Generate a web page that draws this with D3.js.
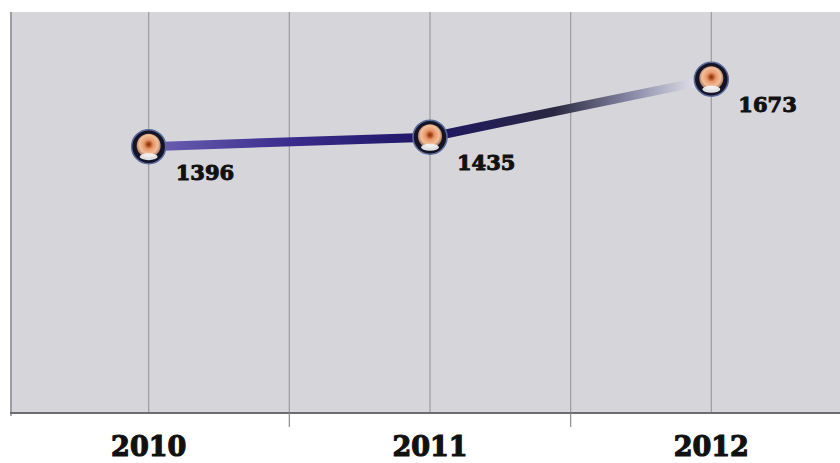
<!DOCTYPE html>
<html>
<head>
<meta charset="utf-8">
<script src="https://cdn.jsdelivr.net/npm/d3@7"></script>
<style>
  body { margin: 0; background: #fff; }
  svg { display: block; }
</style>
</head>
<body>
<script>
// dati
var years = ["2010", "2011", "2012"];
var values = [1396, 1435, 1673];

var width = 840, height = 463;
var plot = { left: 10, right: 852, top: 12, bottom: 413 };

var svg = d3.select("body").append("svg")
    .attr("width", width)
    .attr("height", height);

var x = d3.scaleBand().domain(years).range([8, plot.right]).padding(0);
var y = d3.scaleLinear().domain([300, 1950]).range([plot.bottom, plot.top]);

var defs = svg.append("defs");

// gradiente della linea
var lg = defs.append("linearGradient")
    .attr("id", "lineGrad")
    .attr("gradientUnits", "userSpaceOnUse")
    .attr("x1", x("2010") + x.bandwidth() / 2).attr("y1", 0)
    .attr("x2", x("2012") + x.bandwidth() / 2).attr("y2", 0);
[[0, "#6c62b4"], [0.25, "#3a2c8c"], [0.5, "#1e1664"], [0.72, "#2a2840"],
 [0.86, "#8a8aa8"], [1, "#f4f4fa"]].forEach(function(s) {
    lg.append("stop").attr("offset", s[0]).attr("stop-color", s[1]);
});

// gradiente dei marker
var rg = defs.append("radialGradient")
    .attr("id", "dotGrad")
    .attr("cx", "50%").attr("cy", "45%").attr("r", "55%");
[[0, "#7a2a0a"], [0.18, "#b85a28"], [0.35, "#e8956a"], [0.7, "#f2c09a"], [1, "#9a6a58"]]
    .forEach(function(s) {
        rg.append("stop").attr("offset", s[0]).attr("stop-color", s[1]);
    });

// sfondo
svg.append("rect")
    .attr("x", plot.left).attr("y", plot.top)
    .attr("width", width - plot.left).attr("height", plot.bottom - plot.top)
    .attr("fill", "#d6d6da");

// griglia verticale: centri e bordi delle bande
var gridX = [];
years.forEach(function(d) {
    gridX.push(x(d));
    gridX.push(x(d) + x.bandwidth() / 2);
});
svg.append("g").selectAll("line")
    .data(gridX.slice(1))
    .join("line")
    .attr("x1", d => d).attr("x2", d => d)
    .attr("y1", plot.top).attr("y2", plot.bottom)
    .attr("stroke", "#9c9ca0")
    .attr("stroke-width", 1.2);

// bordo sinistro
svg.append("line")
    .attr("x1", plot.left + 1).attr("x2", plot.left + 1)
    .attr("y1", plot.top).attr("y2", plot.bottom + 3)
    .attr("stroke", "#8a8a90").attr("stroke-width", 1.5);

// asse x
var xAxis = svg.append("g")
    .attr("transform", "translate(0," + plot.bottom + ")")
    .call(d3.axisBottom(x).tickSize(0).tickPadding(23));
xAxis.select(".domain")
    .attr("stroke", "#6c6c72").attr("stroke-width", 2)
    .attr("d", "M" + plot.left + ",0H" + width);
xAxis.selectAll("text")
    .attr("font-family", "DejaVu Serif")
    .attr("font-weight", "bold")
    .attr("font-size", 27)
    .attr("fill", "#111")
    .attr("stroke", "#111")
    .attr("stroke-width", 1.2)
    .attr("dy", "0.75em");

// tacche tra le categorie
svg.append("g").selectAll("line")
    .data(years.slice(1))
    .join("line")
    .attr("x1", d => x(d)).attr("x2", d => x(d))
    .attr("y1", plot.bottom).attr("y2", plot.bottom + 14)
    .attr("stroke", "#8a8a90").attr("stroke-width", 1.2);

var pts = years.map(function(d, i) {
    return { year: d, value: values[i], cx: x(d) + x.bandwidth() / 2, cy: y(values[i]) };
});

// linea
svg.append("path")
    .datum(pts)
    .attr("d", d3.line().x(d => d.cx).y(d => d.cy))
    .attr("fill", "none")
    .attr("stroke", "url(#lineGrad)")
    .attr("stroke-width", 9)
    .attr("stroke-linecap", "round");

// marker
var dots = svg.append("g").selectAll("g")
    .data(pts)
    .join("g")
    .attr("transform", d => "translate(" + d.cx + "," + d.cy + ")");
dots.append("circle")
    .attr("r", 17)
    .attr("fill", "#141426")
    .attr("stroke", "#5a6a9a")
    .attr("stroke-width", 1.5);
dots.append("circle")
    .attr("r", 12)
    .attr("cy", -1)
    .attr("fill", "url(#dotGrad)");
dots.append("ellipse")
    .attr("cy", 10).attr("rx", 9).attr("ry", 3.5)
    .attr("fill", "#f4f6fa").attr("opacity", 0.9);

// etichette valori
svg.append("g").selectAll("text")
    .data(pts)
    .join("text")
    .attr("x", d => d.cx + 27)
    .attr("y", d => d.cy + 33)
    .attr("font-family", "DejaVu Serif")
    .attr("font-weight", "bold")
    .attr("font-size", 21)
    .attr("fill", "#111")
    .attr("stroke", "#111")
    .attr("stroke-width", 1)
    .text(d => d.value);
</script>
</body>
</html>
